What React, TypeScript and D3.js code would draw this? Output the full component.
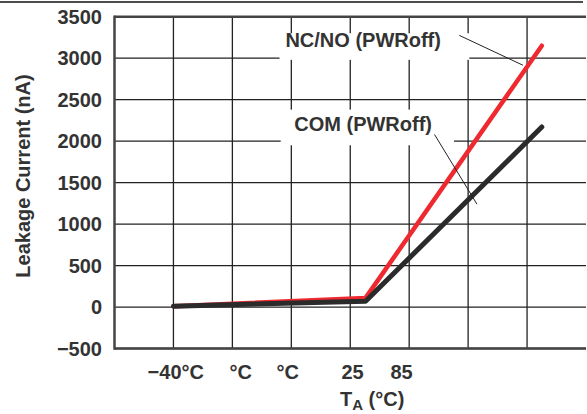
import React from "react";
import * as d3 from "d3";

// x positions are in grid units (gridlines at 1..7)
const xPositions = [1, 4.26, 7.25];
const ncnoValues = [10, 110, 3150];
const comValues = [10, 70, 2170];

const yTicks = [-500, 0, 500, 1000, 1500, 2000, 2500, 3000, 3500];
const xGrid = [1, 2, 3, 4, 5, 6, 7];
const xTickLabels = ["−40°C", "°C", "°C", "25", "85"];
const xTickPos = [1.04, 2.14, 2.94, 4.04, 4.87];

const W = 587;
const H = 414;
const FONT = "'Liberation Sans', Arial, sans-serif";
const TXT = "#333";

export default function App() {
  const x = d3.scaleLinear().domain([0, 8]).range([114.5, 586]);
  const y = d3.scaleLinear().domain([-500, 3500]).range([348.5, 16.7]);

  const line = d3
    .line<number>()
    .x((_, i) => x(xPositions[i]))
    .y((d) => y(d));

  // annotation anchors (grid units / nA)
  const ncnoLeader = { x1: 5.85, y1: 3275, x2: 6.93, y2: 2915 };
  const comLeader = { x1: 5.43, y1: 2080, x2: 6.15, y2: 1240 };

  return (
    <svg
      width={W}
      height={H}
      style={{ position: "absolute", left: 0, top: 0, background: "#fff" }}
      fontFamily={FONT}
    >
      <line x1={0} x2={583} y1={2} y2={2} stroke="#111" strokeWidth={1.5} />

      {/* grid */}
      {yTicks.map((t) => (
        <line key={"h" + t} x1={x(0)} x2={x(8)} y1={y(t)} y2={y(t)} stroke="#222" strokeWidth={1.3} />
      ))}
      {xGrid.map((g) => (
        <line key={"v" + g} x1={x(g)} x2={x(g)} y1={y(3500)} y2={y(-500)} stroke="#222" strokeWidth={1.3} />
      ))}

      {/* label boxes hide the grid */}
      <rect x={x(2.8)} y={y(3300)} width={x(6.02) - x(2.8)} height={y(2980) - y(3300)} fill="#fff" />
      <rect x={x(2.82)} y={y(2380)} width={x(5.76) - x(2.82)} height={y(1950) - y(2380)} fill="#fff" />

      {/* frame */}
      <line x1={x(0)} x2={x(8)} y1={y(3500)} y2={y(3500)} stroke="#444" strokeWidth={2.5} />
      <line x1={x(0)} x2={x(8)} y1={y(-500)} y2={y(-500)} stroke="#444" strokeWidth={2.5} />
      <line x1={x(0)} x2={x(0)} y1={y(3500) - 1.2} y2={y(-500) + 1.2} stroke="#444" strokeWidth={2.5} />

      {/* series */}
      <path d={line(ncnoValues) || ""} fill="none" stroke="#ee2a30" strokeWidth={4.5} strokeLinecap="round" strokeLinejoin="round" />
      <path d={line(comValues) || ""} fill="none" stroke="#2b2b2b" strokeWidth={5} strokeLinecap="round" strokeLinejoin="round" />

      {/* leaders */}
      <line x1={x(ncnoLeader.x1)} y1={y(ncnoLeader.y1)} x2={x(ncnoLeader.x2)} y2={y(ncnoLeader.y2)} stroke="#222" strokeWidth={1} />
      <line x1={x(comLeader.x1)} y1={y(comLeader.y1)} x2={x(comLeader.x2)} y2={y(comLeader.y2)} stroke="#222" strokeWidth={1} />

      {/* annotations */}
      <text x={x(2.9)} y={y(3130)} fontSize={20} fontWeight="bold" fill={TXT}>NC/NO (PWRoff)</text>
      <text x={x(3.05)} y={y(2120)} fontSize={20} fontWeight="bold" fill={TXT}>COM (PWRoff)</text>

      {/* y tick labels */}
      {yTicks.map((t) => (
        <text key={"yl" + t} x={102} y={y(t) + 7} fontSize={20} fontWeight="bold" fill={TXT} textAnchor="end">
          {t < 0 ? "−" + Math.abs(t) : t}
        </text>
      ))}

      {/* x tick labels */}
      {xTickLabels.map((l, i) => (
        <text key={"xl" + i} x={x(xTickPos[i])} y={379} fontSize={20} fontWeight="bold" fill={TXT} textAnchor="middle">
          {l}
        </text>
      ))}

      {/* axis titles */}
      <text x={340} y={406} fontSize={20} fontWeight="bold" fill={TXT}>
        T<tspan fontSize={15} dy={4}>A</tspan>
        <tspan dy={-4}> (°C)</tspan>
      </text>
      <text transform={`translate(29.5,176) rotate(-90)`} fontSize={20} fontWeight="bold" fill={TXT} textAnchor="middle">
        Leakage Current (nA)
      </text>
    </svg>
  );
}
